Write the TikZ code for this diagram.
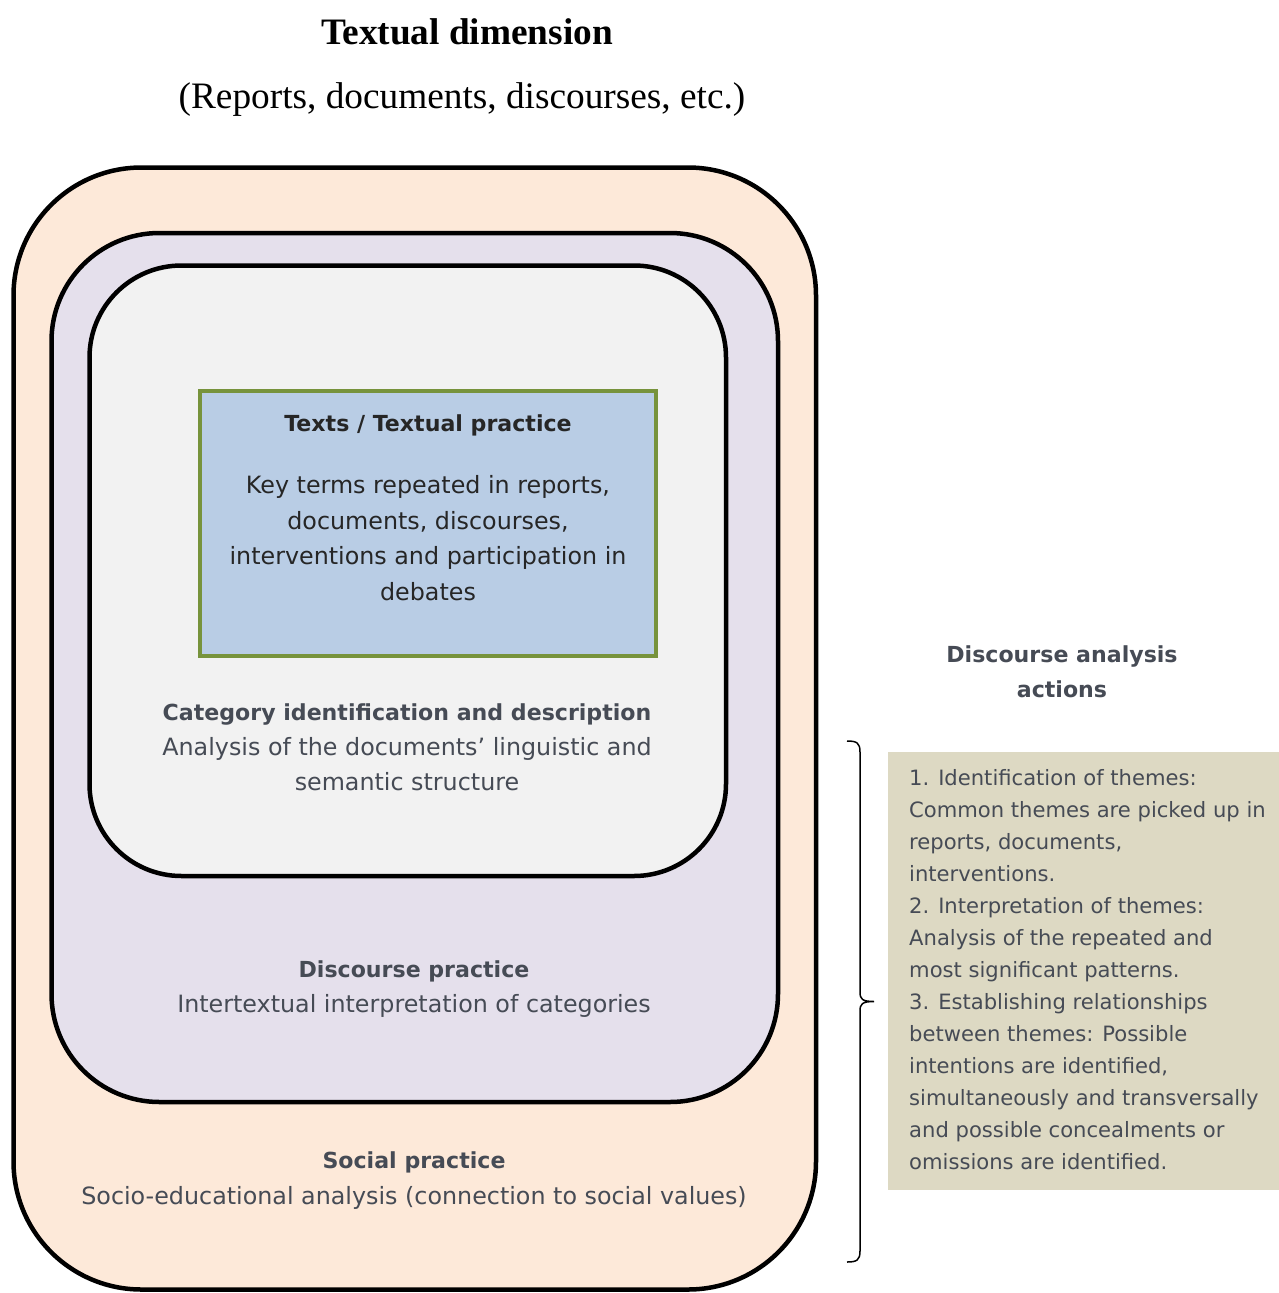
\documentclass[tikz,border=0pt]{standalone}
\usepackage{fontspec}
\setmainfont{Liberation Serif}
\newfontfamily\dvs{DejaVu Sans}
\definecolor{outerfill}{HTML}{FDE9D9}
\definecolor{midfill}{HTML}{E5E0EC}
\definecolor{innerfill}{HTML}{F2F2F2}
\definecolor{keyfill}{HTML}{B9CDE5}
\definecolor{keyline}{HTML}{77933C}
\definecolor{sidefill}{HTML}{DDD9C3}
\definecolor{slate}{HTML}{464B55}
\definecolor{ink}{HTML}{262626}
\begin{document}
\begin{tikzpicture}[x=1pt,y=-1pt,
  layer/.style={draw=black, line width=4.5pt, inner sep=0pt, outer sep=0pt},
  bodytxt/.style={font=\dvs\fontsize{23.8}{35.6}\selectfont, text=slate, align=center, inner sep=0pt},
  headtxt/.style={font=\dvs\bfseries\fontsize{22.1}{35}\selectfont, text=slate, align=center, inner sep=0pt},
  sidetxt/.style={font=\dvs\fontsize{21.1}{32}\selectfont, text=slate, align=left, inner sep=0pt},
  titletxt/.style={font=\bfseries\fontsize{37.3}{42}\selectfont, text=black, inner sep=0pt},
  subtxt/.style={font=\fontsize{37.3}{42}\selectfont, text=black, inner sep=0pt},
  bracket/.style={draw=black, line width=1.5pt}
]
\useasboundingbox (0,0) rectangle (1279,1293);
\fill[white] (0,0) rectangle (1279,1293);

% titles
\node[titletxt, anchor=base] (title) at (467,44) {Textual dimension};
\node[subtxt, anchor=base] (subtitle) at (462,108) {(Reports, documents, discourses, etc.)};

% nested layers
\node[layer, fill=outerfill, rounded corners=128pt, minimum width=802.5pt, minimum height=1122pt] (social) at (414.75,728.5) {};
\node[layer, fill=midfill, rounded corners=108pt, minimum width=726.5pt, minimum height=869pt] (discourse) at (414.75,667.5) {};
\node[layer, fill=innerfill, rounded corners=92pt, minimum width=636.5pt, minimum height=610.5pt] (category) at (407.75,570.75) {};
\node[draw=keyline, line width=4pt, fill=keyfill, minimum width=456.5pt, minimum height=265pt, inner sep=0pt] (texts) at (427.75,523) {};

% texts in the key box
\node[headtxt, text=ink, anchor=base] (textshead) at (428,431) {Texts / Textual practice};
\node[bodytxt, text=ink] (textsbody) at (428,538) {Key terms repeated in reports,\\documents, discourses,\\interventions and participation in\\debates};

% category
\node[headtxt, anchor=base] (cathead) at (407,720) {Category identification and description};
\node[bodytxt] (catbody) at (407,764) {Analysis of the documents’ linguistic and\\semantic structure};

% discourse practice
\node[headtxt, anchor=base] (dischead) at (414,977) {Discourse practice};
\node[bodytxt, anchor=base] (discbody) at (414,1012) {Intertextual interpretation of categories};

% social practice
\node[headtxt, anchor=base] (sochead) at (414,1168) {Social practice};
\node[bodytxt, anchor=base] (socbody) at (414,1204) {Socio-educational analysis (connection to social values)};

% discourse analysis actions
\node[headtxt] (dahead) at (1062,672) {Discourse analysis\\actions};

% side box
\node[fill=sidefill, minimum width=391pt, minimum height=438pt, inner sep=0pt, outer sep=0pt] (side) at (1083.5,971) {};
\node[sidetxt, anchor=west] (sidetext) at (909,969.5) {1. Identification of themes:\\Common themes are picked up in\\reports, documents,\\interventions.\\2. Interpretation of themes:\\Analysis of the repeated and\\most significant patterns.\\3. Establishing relationships\\between themes: Possible\\intentions are identified,\\simultaneously and transversally\\and possible concealments or\\omissions are identified.};

% bracket
\coordinate (btop) at (847,741);
\coordinate (btip) at (874,1001.5);
\coordinate (bbot) at (847,1262);
\draw[bracket] (btop) .. controls (857,741) and (860,743) .. (860,752) -- (860,992)
  .. controls (860,999) and (862,1001.5) .. (btip)
  .. controls (862,1001.5) and (860,1004) .. (860,1011) -- (860,1251)
  .. controls (860,1260) and (857,1262) .. (bbot);
\end{tikzpicture}
\end{document}
